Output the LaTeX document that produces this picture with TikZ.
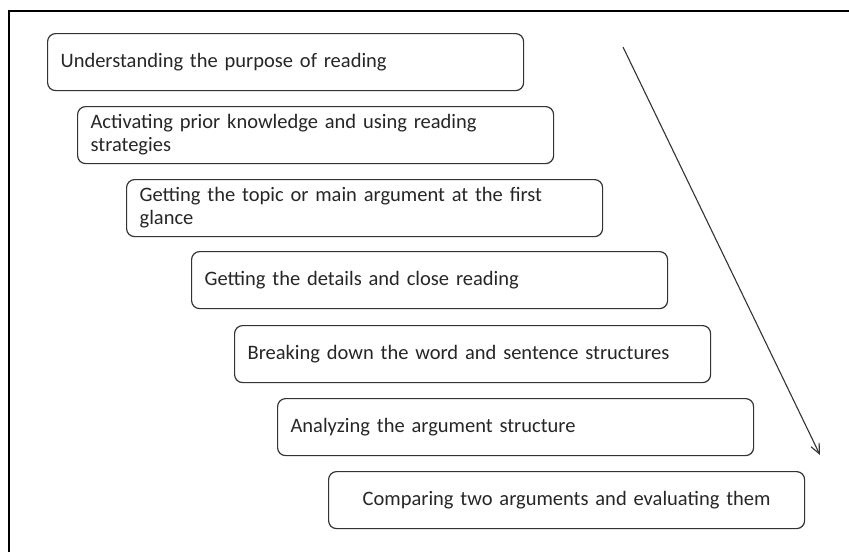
\documentclass[tikz,border=0pt]{standalone}
\usepackage{fontspec}
\setmainfont{Carlito}
\usetikzlibrary{arrows.meta}

\tikzset{
  stage/.style={draw=black!80, line width=1.2pt, rounded corners=8pt,
    anchor=north west, minimum width=476pt, minimum height=57pt,
    text width=450pt, inner xsep=13pt, inner ysep=0pt, align=left,
    text=black!85, font=\fontsize{20.5}{23}\selectfont}
}

\begin{document}
\begin{tikzpicture}[x=1pt,y=-1pt]
\useasboundingbox (0,0) rectangle (849,552);
% Frame
\draw[line width=1.8pt] (9,552) -- (9,11) -- (849,11);

\node[stage] (s1) at (47,33) {Understanding the purpose of reading};
\node[stage] (s2) at (77,106) {Activating prior knowledge and using reading\\strategies};
\node[stage] (s3) at (126,179) {Getting the topic or main argument at the first\\glance};
\node[stage] (s4) at (191,251) {Getting the details and close reading};
\node[stage] (s5) at (234,325) {Breaking down the word and sentence structures};
\node[stage] (s6) at (277,398) {Analyzing the argument structure};
\node[stage, align=center] (s7) at (328,471) {Comparing two arguments and evaluating them};

\coordinate (top) at (623,47);
\coordinate (bottom) at (820,455);
\draw[line width=1.1pt, black!80, -{Straight Barb[length=10pt,width=9pt]}] (top) -- (bottom);
\end{tikzpicture}
\end{document}
